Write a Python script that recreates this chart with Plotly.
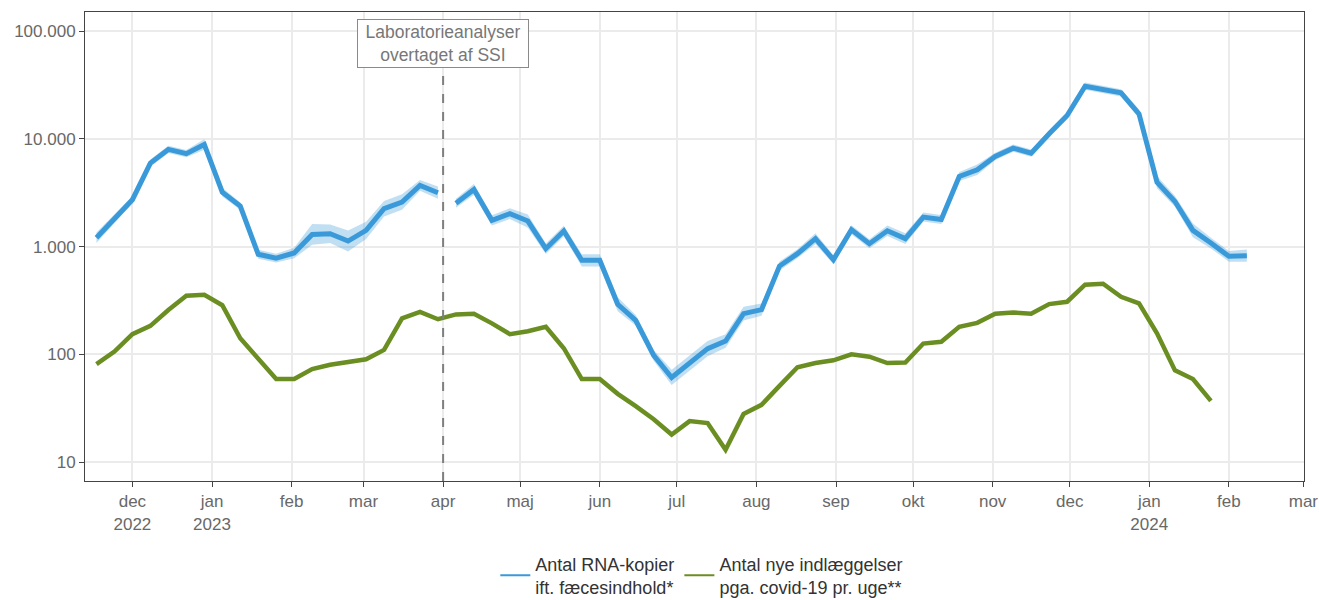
import pandas as pd
import plotly.graph_objects as go

# ---------------- data ----------------
start_date = "2022-11-17"          # first weekly observation
break_after = 19                    # last index before the lab change gap

blue_values = [1210, 1820, 2730, 5970, 8000, 7300, 8890, 3210, 2380, 849,
               783, 873, 1300, 1320, 1127, 1416, 2250, 2594, 3705, 3170,
               2535, 3400, 1754, 2024, 1730, 958, 1396, 747, 747, 292,
               207, 98, 61, 83, 113, 133, 239, 260, 661, 861,
               1187, 757, 1438, 1066, 1405, 1187, 1884, 1790, 4490, 5180,
               6880, 8220, 7380, 11170, 16500, 30900, 28600, 26800, 17100, 3970,
               2630, 1416, 1080, 813, 825]
blue_low = [1080, 1655, 2530, 5530, 7400, 6760, 7940, 2920, 2200, 772,
            712, 780, 1040, 1080, 900, 1180, 1910, 2200, 3310, 2780,
            2300, 3040, 1570, 1810, 1500, 855, 1250, 655, 655, 252,
            185, 87, 52, 70, 96, 115, 206, 228, 600, 783,
            1060, 688, 1307, 969, 1254, 1060, 1713, 1627, 4080, 4625,
            6370, 7610, 6830, 10340, 15280, 28600, 26480, 24810, 15550, 3480,
            2350, 1220, 964, 726, 724]
blue_high = [1355, 2000, 2950, 6450, 8640, 7880, 9960, 3530, 2570, 934,
             861, 978, 1625, 1610, 1410, 1700, 2650, 3060, 4150, 3610,
             2790, 3810, 1960, 2270, 1990, 1070, 1560, 850, 850, 339,
             232, 110, 72, 98, 133, 154, 277, 296, 727, 947,
             1330, 833, 1582, 1173, 1574, 1330, 2072, 1969, 4940, 5800,
             7430, 8880, 7970, 12060, 17820, 33370, 30890, 28940, 18810, 4530,
             2950, 1640, 1210, 911, 940]
green_values = [81, 106, 154, 184, 258, 350, 357, 286, 141, 90,
                59, 59, 73, 80, 85, 90, 110, 216, 248, 212,
                235, 238, 194, 154, 164, 180, 114, 59, 59, 43,
                33, 25, 18, 24, 23, 13, 28, 34, 51, 76,
                83, 88, 100, 95, 83, 84, 126, 131, 180, 196,
                238, 245, 238, 293, 308, 443, 452, 342, 297, 157,
                71, 59, 37]

month_ticks = ["2022-12-01", "2023-01-01", "2023-02-01", "2023-03-01", "2023-04-01",
               "2023-05-01", "2023-06-01", "2023-07-01", "2023-08-01", "2023-09-01",
               "2023-10-01", "2023-11-01", "2023-12-01", "2024-01-01", "2024-02-01",
               "2024-03-01"]
month_labels = ["dec<br>2022", "jan<br>2023", "feb", "mar", "apr", "maj", "jun", "jul",
                "aug", "sep", "okt", "nov", "dec", "jan<br>2024", "feb", "mar"]

y_ticks = [10, 100, 1000, 10000, 100000]
y_labels = ["10", "100", "1.000", "10.000", "100.000"]

lab_date = "2023-04-01"
lab_text = "Laboratorieanalyser<br>overtaget af SSI"
legend_names = ["Antal RNA-kopier<br>ift. fæcesindhold*",
                "Antal nye indlæggelser<br>pga. covid-19 pr. uge**"]

# ---------------- styling ----------------
BLUE = "#3a9ad9"
BAND = "rgba(58,154,217,0.32)"
GREEN = "#6b8e23"
TXT = "#686868"
FONT = "Liberation Sans, Arial, sans-serif"

weeks = pd.date_range(start_date, periods=len(blue_values), freq="7D")
gweeks = weeks[:len(green_values)]

fig = go.Figure()

segments = [(0, break_after + 1), (break_after + 1, len(blue_values))]
for a, b in segments:
    xs = list(weeks[a:b])
    fig.add_trace(go.Scatter(x=xs, y=blue_low[a:b], mode="lines",
                             line=dict(width=0, color=BAND), showlegend=False,
                             hoverinfo="skip"))
    fig.add_trace(go.Scatter(x=xs, y=blue_high[a:b], mode="lines", fill="tonexty",
                             fillcolor=BAND, line=dict(width=0, color=BAND),
                             showlegend=False, hoverinfo="skip"))

fig.add_trace(go.Scatter(x=list(gweeks), y=green_values, mode="lines",
                         line=dict(color=GREEN, width=4.5), showlegend=False))

for a, b in segments:
    fig.add_trace(go.Scatter(x=list(weeks[a:b]), y=blue_values[a:b], mode="lines",
                             line=dict(color=BLUE, width=5), showlegend=False))

# legend-only entries with thin lines
fig.add_trace(go.Scatter(x=[None], y=[None], mode="lines", name=legend_names[0],
                         line=dict(color=BLUE, width=2)))
fig.add_trace(go.Scatter(x=[None], y=[None], mode="lines", name=legend_names[1],
                         line=dict(color=GREEN, width=2)))

# vertical dashed line + annotation
fig.add_shape(type="line", xref="x", yref="paper", x0=lab_date, x1=lab_date,
              y0=0, y1=0.878, line=dict(color="#7f7f7f", width=2, dash="dash"))
fig.add_annotation(x=lab_date, xref="x", y=0.933, yref="paper", yanchor="middle",
                   xanchor="center", text=lab_text, showarrow=False, width=166,
                   font=dict(family=FONT, size=17.5, color="#777777"),
                   bgcolor="white", bordercolor="#8a8a8a", borderwidth=1, borderpad=2,
                   align="center")

fig.update_layout(
    width=1319, height=600, autosize=False,
    margin=dict(l=85, r=15, t=12, b=119),
    paper_bgcolor="white", plot_bgcolor="white",
    font=dict(family=FONT, size=17, color=TXT),
    legend=dict(orientation="h", x=0.506, xanchor="center",
                yref="container", y=0.091, yanchor="top",
                valign="middle", traceorder="normal",
                font=dict(size=18, color="#333333"),
                bgcolor="rgba(0,0,0,0)"),
    hovermode=False,
)
fig.update_xaxes(
    type="date", range=["2022-11-12 13:00", "2024-03-01 06:00"], automargin=False,
    tickvals=month_ticks, ticktext=month_labels,
    showgrid=True, gridcolor="#ebebeb", gridwidth=1.5,
    showline=True, linecolor="#444444", linewidth=1, mirror=True,
    ticks="outside", ticklen=5, tickcolor="#444444", tickwidth=1,
    tickfont=dict(size=17, color=TXT), zeroline=False,
)
fig.update_yaxes(
    type="log", range=[0.824, 5.179], automargin=False,
    tickvals=y_ticks, ticktext=y_labels,
    showgrid=True, gridcolor="#ebebeb", gridwidth=1.5,
    showline=True, linecolor="#444444", linewidth=1, mirror=True,
    ticks="outside", ticklen=5, tickcolor="#444444", tickwidth=1,
    tickfont=dict(size=17, color=TXT), zeroline=False,
)

fig.write_html("out.html", config={"displayModeBar": False},
               post_script="document.body.style.margin='0';document.body.style.overflow='hidden';")
